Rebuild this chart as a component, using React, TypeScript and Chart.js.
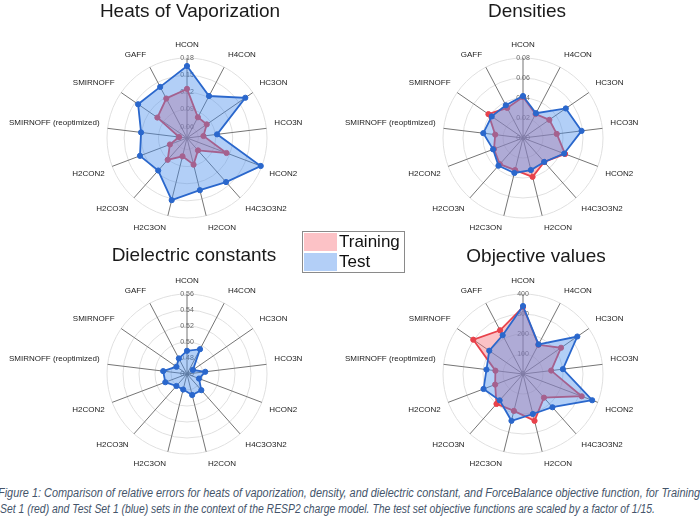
import React, { useEffect, useRef } from "react";
import { Chart, registerables } from "chart.js";

Chart.register(...registerables);

const FONT = "'Liberation Sans', Arial, sans-serif";

const categories = [
  "HCON",
  "H4CON",
  "HC3ON",
  "HCO3N",
  "HCON2",
  "H4C3O3N2",
  "H2CON",
  "H2C3ON",
  "H2CO3N",
  "H2CON2",
  "SMIRNOFF (reoptimized)",
  "SMIRNOFF",
  "GAFF",
];

// Heats of Vaporization
const hovTest = [0.166, 0.123, 0.164, 0.093, 0.178, 0.143, 0.134, 0.152, 0.116, 0.128, 0.121, 0.144, 0.141];
const hovTraining = [0.126, 0.081, 0.082, 0.069, 0.114, 0.069, 0.088, 0.073, 0.091, 0.072, 0.054, 0.103, 0.118];
const hovRange = [0.04, 0.18];
const hovTicks = [0.06, 0.09, 0.12, 0.15, 0.18];

// Densities
const densTest = [0.042, 0.028, 0.052, 0.059, 0.044, 0.032, 0.033, 0.036, 0.037, 0.032, 0.04, 0.038, 0.037];
const densTraining = [0.041, 0.027, 0.032, 0.034, 0.045, 0.032, 0.04, 0.033, 0.035, 0.031, 0.028, 0.042, 0.034];
const densRange = [0, 0.08];
const densTicks = [0, 0.02, 0.04, 0.06, 0.08];

// Dielectric constants
const dielTest = [0.489, 0.495, 0.469, 0.483, 0.476, 0.487, 0.487, 0.48, 0.48, 0.489, 0.49, 0.476, 0.482];
const dielRange = [0.46, 0.56];
const dielTicks = [0.46, 0.48, 0.5, 0.52, 0.54, 0.56];

// Objective values
const objTest = [340, 167, 330, 201, 370, 222, 206, 241, 176, 211, 184, 205, 219];
const objTraining = [335, 165, 231, 142, 314, 158, 241, 190, 200, 149, 139, 302, 247];
const objRange = [0, 400];
const objTicks = [0, 100, 200, 300, 400];

const TEST_LINE = "#2a67cc";
const TEST_FILL = "rgba(72,140,235,0.42)";
const TRAIN_LINE = "#e8424b";
const TRAIN_FILL = "rgba(245,110,120,0.42)";

type PanelProps = {
  left: number;
  top: number;
  width: number;
  height: number;
  cx: number;
  cy: number;
  radius: number;
  range: number[];
  tickValues: number[];
  decimals: number;
  test: number[];
  training?: number[];
};

function RadarPanel(p: PanelProps) {
  const ref = useRef<HTMLCanvasElement | null>(null);
  useEffect(() => {
    if (!ref.current) return;
    const datasets: any[] = [
      {
        label: "Test",
        data: p.test,
        borderColor: TEST_LINE,
        backgroundColor: TEST_FILL,
        borderWidth: 1.8,
        pointRadius: 2.6,
        pointBorderWidth: 1,
        pointBackgroundColor: TEST_LINE,
        pointBorderColor: TEST_LINE,
        fill: true,
        order: 0,
      },
    ];
    if (p.training) {
      datasets.push({
        label: "Training",
        data: p.training,
        borderColor: TRAIN_LINE,
        backgroundColor: TRAIN_FILL,
        borderWidth: 1.8,
        pointRadius: 2.6,
        pointBorderWidth: 1,
        pointBackgroundColor: TRAIN_LINE,
        pointBorderColor: TRAIN_LINE,
        fill: true,
        order: 1,
      });
    }
    const min = p.range[0];
    const max = p.range[1];
    const chart = new Chart(ref.current, {
      type: "radar",
      data: { labels: categories, datasets },
      options: {
        responsive: false,
        animation: false,
        events: [],
        layout: { padding: 0 },
        plugins: { legend: { display: false }, tooltip: { enabled: false }, title: { display: false } },
        elements: { line: { tension: 0 } },
        scales: {
          r: {
            min,
            max,
            startAngle: 0,
            angleLines: { color: "#757575", lineWidth: 1 },
            grid: { circular: true, color: "#e0e0e0", lineWidth: 1 },
            pointLabels: { font: { size: 8, family: FONT }, color: "#222", padding: 4.5 },
            ticks: {
              display: true,
              showLabelBackdrop: false,
              backdropPadding: 0,
              font: { size: 7, family: FONT },
              color: "#666",
              callback: (v: any) => Number(v).toFixed(p.decimals),
            },
            afterBuildTicks: (scale: any) => {
              scale.ticks = [min, ...p.tickValues].map((v) => ({ value: v }));
            },
            afterFit: (scale: any) => {
              const oldX = scale.xCenter;
              const oldY = scale.yCenter;
              const oldR = scale.drawingArea;
              scale.xCenter = p.cx;
              scale.yCenter = p.cy;
              scale.drawingArea = p.radius;
              const items = scale._pointLabelItems || [];
              items.forEach((it: any, i: number) => {
                const a = scale.getIndexAngle(i) - Math.PI / 2;
                const dx = p.cx - oldX + (p.radius - oldR) * Math.cos(a);
                const dy = p.cy - oldY + (p.radius - oldR) * Math.sin(a);
                it.x += dx;
                it.left += dx;
                it.right += dx;
                it.y += dy;
                it.top += dy;
                it.bottom += dy;
              });
            },
          } as any,
        },
      },
    });
    return () => chart.destroy();
  }, []);
  return (
    <canvas
      ref={ref}
      width={p.width}
      height={p.height}
      style={{ position: "absolute", left: p.left, top: p.top, width: p.width, height: p.height }}
    />
  );
}

const titleStyle = (cx: number, baseline: number): React.CSSProperties => ({
  position: "absolute",
  left: cx - 150,
  width: 300,
  top: baseline - 16,
  textAlign: "center",
  fontFamily: FONT,
  fontSize: 19,
  lineHeight: "19px",
  color: "#1a1a1a",
  whiteSpace: "nowrap",
});

export default function App() {
  useEffect(() => {
    document.body.style.margin = "0";
  }, []);
  return (
    <div style={{ position: "absolute", left: 0, top: 0, width: 700, height: 522, background: "#fff", overflow: "hidden" }}>
      <RadarPanel left={0} top={0} width={350} height={240} cx={187} cy={138} radius={80} range={hovRange} tickValues={hovTicks} decimals={2} test={hovTest} training={hovTraining} />
      <RadarPanel left={300} top={0} width={400} height={240} cx={223} cy={138} radius={80} range={densRange} tickValues={densTicks} decimals={2} test={densTest} training={densTraining} />
      <RadarPanel left={0} top={240} width={350} height={240} cx={187} cy={134} radius={80} range={dielRange} tickValues={dielTicks} decimals={2} test={dielTest} />
      <RadarPanel left={300} top={240} width={400} height={240} cx={223} cy={134} radius={80} range={objRange} tickValues={objTicks} decimals={0} test={objTest} training={objTraining} />

      <div style={titleStyle(190, 17)}>Heats of Vaporization</div>
      <div style={titleStyle(527, 17)}>Densities</div>
      <div style={titleStyle(194, 261)}>Dielectric constants</div>
      <div style={titleStyle(536, 262)}>Objective values</div>

      <div
        style={{
          position: "absolute",
          left: 302,
          top: 231,
          width: 101,
          height: 40,
          border: "1px solid #8a8a8a",
          background: "#fff",
          fontFamily: FONT,
          fontSize: 17,
          color: "#111",
        }}
      >
        <div style={{ position: "absolute", left: 1, top: 1, width: 33, height: 18, background: "#fcc2c6" }} />
        <div style={{ position: "absolute", left: 36, top: 0, lineHeight: "20px" }}>Training</div>
        <div style={{ position: "absolute", left: 1, top: 21, width: 33, height: 18, background: "#b3cff7" }} />
        <div style={{ position: "absolute", left: 36, top: 20, lineHeight: "20px" }}>Test</div>
      </div>

      <svg width={700} height={42} style={{ position: "absolute", left: 0, top: 480 }}>
        <text
          x={-2}
          y={17}
          textLength={702}
          lengthAdjust="spacingAndGlyphs"
          fontStyle="italic"
          fontSize={12.5}
          fill="#44546a"
          fontFamily={FONT}
        >
          Figure 1: Comparison of relative errors for heats of vaporization, density, and dielectric constant, and ForceBalance objective function, for Training
        </text>
        <text
          x={0}
          y={33}
          textLength={655}
          lengthAdjust="spacingAndGlyphs"
          fontStyle="italic"
          fontSize={12.5}
          fill="#44546a"
          fontFamily={FONT}
        >
          Set 1 (red) and Test Set 1 (blue) sets in the context of the RESP2 charge model. The test set objective functions are scaled by a factor of 1/15.
        </text>
      </svg>
    </div>
  );
}
